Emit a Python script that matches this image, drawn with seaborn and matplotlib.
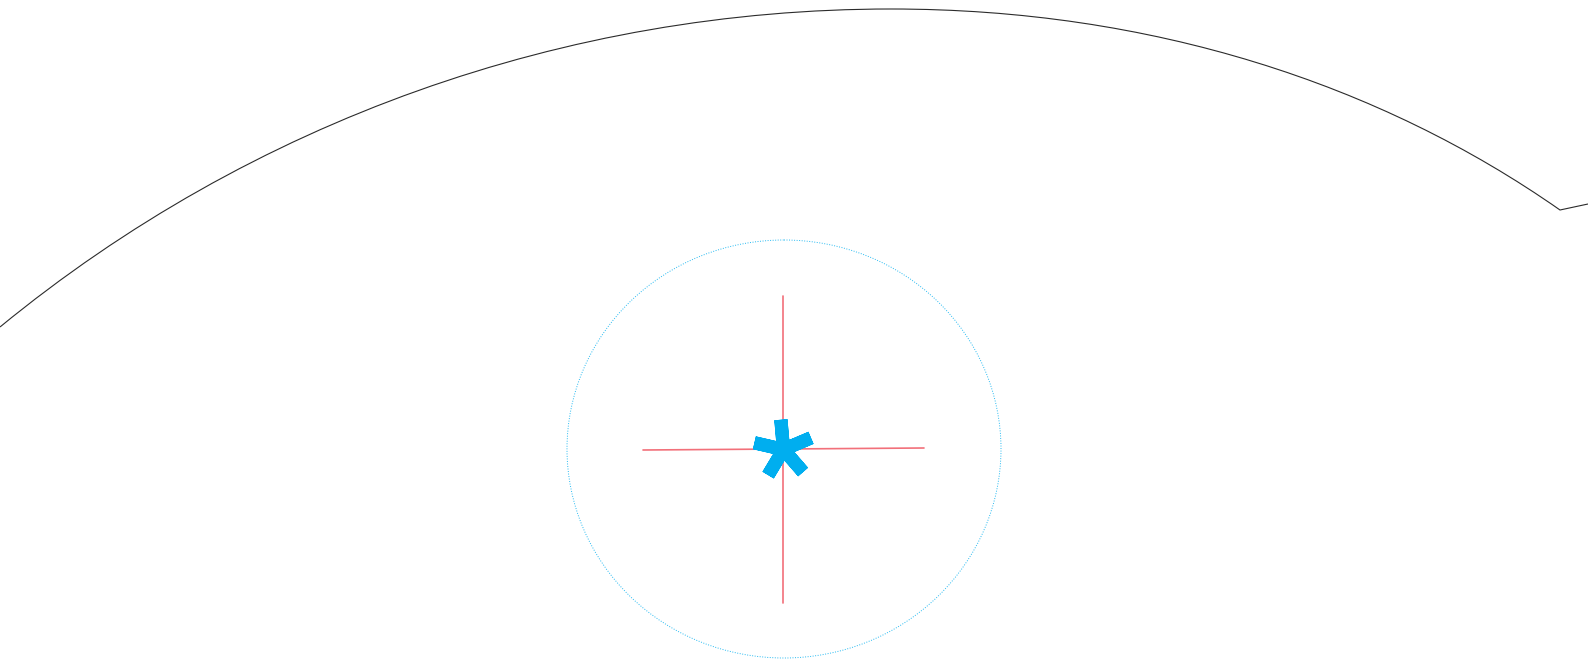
import numpy as np
import pandas as pd
import matplotlib
matplotlib.use("Agg")
import matplotlib.pyplot as plt
from matplotlib.path import Path
from matplotlib.patches import PathPatch, Ellipse
import seaborn as sns

sns.set_theme(style="white")

# canvas in pixel units (y grows downward)
W, H = 1588, 664

# big arc: two bezier pieces meeting at the top, then a short straight tail
arc_x = [0, 251, 566, 891, 1151, 1380, 1560, 1588]
arc_y = [327, 121, 9, 9, 9, 84, 210, 204]

# dotted ring around the target
ring_center = (784, 449)
ring_size = (434, 418)

# red crosshair
cross_h_x = [643, 924]
cross_h_y = [450, 448]
cross_v_x = [783, 783]
cross_v_y = [296, 603]

# asterisk marker
star_x = [783]
star_y = [449]

BLUE = "#00aeef"
RED = "#f2707a"

fig = plt.figure(figsize=(W / 100, H / 100), dpi=100)
ax = fig.add_axes([0, 0, 1, 1])

codes = [Path.MOVETO,
         Path.CURVE4, Path.CURVE4, Path.CURVE4,
         Path.CURVE4, Path.CURVE4, Path.CURVE4,
         Path.LINETO]
arc = Path(list(zip(arc_x, arc_y)), codes)
ax.add_patch(PathPatch(arc, facecolor="none", edgecolor="#2b2b2b", lw=0.8))

ax.add_patch(Ellipse(ring_center, *ring_size, facecolor="none",
                     edgecolor=BLUE, lw=0.7, alpha=0.85,
                     linestyle=(0, (1, 1.6))))

# estimator=None so the vertical segment is not averaged into one point
df_h = pd.DataFrame({"x": cross_h_x, "y": cross_h_y})
df_v = pd.DataFrame({"x": cross_v_x, "y": cross_v_y})
sns.lineplot(data=df_h, x="x", y="y", sort=False, estimator=None,
             color=RED, lw=1.2, ax=ax)
sns.lineplot(data=df_v, x="x", y="y", sort=False, estimator=None,
             color=RED, lw=1.2, ax=ax)

ax.plot(star_x, star_y, linestyle="none", marker=(5, 2, 5), markersize=43,
        mew=9.5, color=BLUE)

ax.set_xlim(0, W)
ax.set_ylim(H, 0)
ax.axis("off")

fig.savefig("out.png", dpi=100)
